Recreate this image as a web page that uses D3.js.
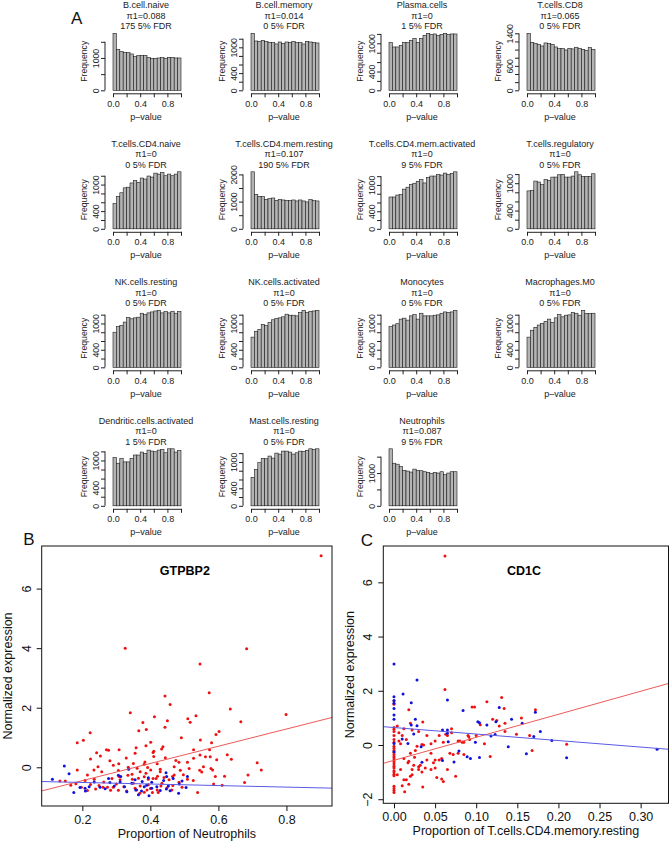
<!DOCTYPE html>
<html>
<head>
<meta charset="utf-8">
<script src="https://cdn.jsdelivr.net/npm/d3@7"></script>
<style>
  body { margin: 0; background: #fff; }
  svg { display: block; font-family: "Liberation Sans", Arial, Helvetica, sans-serif; }
</style>
</head>
<body>
<svg id="fig" width="669" height="847"></svg>
<script>
// ---- panel A: p-value histograms ----
var histNames = ["B.cell.naive", "B.cell.memory", "Plasma.cells", "T.cells.CD8",
  "T.cells.CD4.naive", "T.cells.CD4.mem.resting", "T.cells.CD4.mem.activated", "T.cells.regulatory",
  "NK.cells.resting", "NK.cells.activated", "Monocytes", "Macrophages.M0",
  "Dendritic.cells.activated", "Mast.cells.resting", "Neutrophils"];
var histPi = ["0.088", "0.014", "0", "0.065", "0", "0.107", "0", "0", "0", "0", "0", "0", "0", "0", "0.087"];
var histFdr = [175, 0, 1, 0, 0, 190, 9, 0, 0, 0, 0, 0, 1, 0, 9];

// 20 bins of width 0.05 per panel
var histCounts = [
  [1763,1268,1196,1165,1165,1124,1041,1072,1072,1082,1010,990,990,1000,1010,990,1020,1010,1000,1000],
  [1326,1147,1132,1163,1140,1116,1108,1078,1124,1093,1124,1108,1132,1108,1108,1078,1140,1124,1116,1101],
  [1014,922,922,957,1021,1014,1064,1106,1021,1106,1170,1213,1184,1199,1163,1191,1213,1184,1199,1199],
  [1400,1179,1155,1130,1089,1163,1147,1130,1065,1024,1024,991,1032,1016,1057,1032,1007,975,1048,1007],
  [570,733,815,926,941,1037,1089,1052,1148,1126,1193,1170,1259,1237,1274,1200,1237,1200,1237,1289],
  [2096,1265,1193,1181,1084,1108,1133,1048,1084,1060,1048,1036,1060,1024,1060,1024,988,1072,1036,1024],
  [725,725,770,785,904,949,1009,1039,1084,1121,1046,1173,1203,1203,1241,1226,1270,1241,1263,1300],
  [831,845,1047,1026,968,1077,1062,1134,1134,1185,1192,1134,1134,1156,1250,1185,1149,1149,1149,1207],
  [800,927,957,1031,1136,1106,1128,1143,1233,1203,1241,1263,1285,1300,1241,1270,1241,1278,1233,1270],
  [688,822,860,979,949,1024,1084,1113,1128,1151,1211,1188,1188,1173,1248,1300,1248,1278,1285,1300],
  [927,964,994,1099,1121,1076,1173,1203,1099,1233,1173,1173,1173,1188,1196,1233,1263,1248,1263,1300],
  [688,845,912,964,1001,1046,1099,1024,1128,1203,1151,1188,1196,1248,1233,1188,1300,1226,1226,1233],
  [1062,939,1048,968,968,1048,1120,1120,1185,1156,1228,1207,1192,1228,1243,1170,1257,1257,1185,1221],
  [650,824,983,1081,1073,1134,1088,1202,1179,1247,1247,1225,1179,1209,1247,1240,1262,1300,1285,1300],
  [1740,1300,1270,1200,1080,1060,1030,1120,1080,1070,1040,1020,980,1020,1000,1040,950,1000,1040,1040]
];
var histTickStep = [500, 200, 200, 200, 200, 500, 200, 200, 200, 200, 200, 200, 200, 200, 500];
var histTickLabels = [
  [0, 1000], [0, 400, 1000], [0, 400, 1000], [0, 600, 1400],
  [0, 400, 1000], [0, 1000, 2000], [0, 400, 1000], [0, 400, 1000],
  [0, 400, 1000], [0, 400, 1000], [0, 400, 1000], [0, 400, 1000],
  [0, 400, 1000], [0, 400, 1000], [0, 1000]
];
var pTicks = [0, 0.2, 0.4, 0.6, 0.8, 1];
var pTickLabels = [0, 0.4, 0.8];

// ---- panel B: GTPBP2 vs neutrophils ----
var gtpRed = [
  [0.902,7.10],[0.326,4.00],[0.546,3.47],[0.683,3.98],
  [0.443,2.39],[0.573,2.50],[0.458,2.11],[0.635,1.96],[0.799,1.77],[0.341,1.83],[0.412,1.70],
  [0.534,1.73],[0.510,1.63],[0.517,1.51],[0.450,1.56],[0.666,1.53],[0.378,1.50],[0.443,1.34],
  [0.388,1.27],[0.366,1.23],[0.602,1.20],[0.593,1.10],[0.223,1.16],[0.203,0.91],[0.185,0.82],
  [0.401,0.84],[0.491,0.99],[0.547,0.92],[0.580,0.82],[0.387,0.72],[0.358,0.66],[0.437,0.69],
  [0.433,0.61],[0.410,0.54],[0.408,0.50],[0.271,0.59],[0.277,0.57],[0.308,0.59],[0.527,0.59],
  [0.574,0.59],[0.626,0.42],[0.546,0.41],[0.253,0.38],[0.329,0.31],[0.355,0.47],[0.224,0.28],
  [0.444,0.32],[0.475,0.23],[0.484,0.17],[0.576,0.35],[0.638,0.27],[0.562,0.35],[0.281,0.22],
  [0.384,0.18],[0.350,0.13],[0.382,0.10],[0.420,0.12],[0.291,0.07],[0.307,0.12],[0.246,0.02],
  [0.234,-0.09],[0.185,-0.09],[0.714,0.15],[0.726,-0.09],[0.687,-0.26],[0.677,-0.51],
  [0.392,-0.01],[0.335,0.00],[0.361,-0.03],[0.401,-0.09],[0.429,-0.07],[0.488,-0.10],
  [0.514,-0.04],[0.545,-0.10],[0.551,-0.16],[0.578,-0.04],[0.583,-0.09],[0.497,-0.25],
  [0.465,-0.31],[0.440,-0.34],[0.421,-0.30],[0.408,-0.38],[0.394,-0.40],[0.382,-0.32],
  [0.365,-0.37],[0.347,-0.40],[0.334,-0.27],[0.308,-0.31],[0.287,-0.38],[0.263,-0.49],
  [0.235,-0.40],[0.208,-0.44],[0.181,-0.55],[0.150,-0.46],[0.166,-0.60],[0.224,-0.58],
  [0.249,-0.61],[0.274,-0.67],[0.283,-0.77],[0.306,-0.77],[0.330,-0.80],[0.360,-0.76],
  [0.382,-0.84],[0.406,-0.85],[0.420,-0.76],[0.449,-0.69],[0.466,-0.61],[0.484,-0.50],
  [0.509,-0.40],[0.526,-0.44],[0.539,-0.85],[0.586,-0.56],[0.611,-0.60],[0.591,-0.31],
  [0.618,-0.30],[0.387,-0.20],[0.370,-0.15],[0.429,-0.15],[0.417,-0.38],[0.434,-0.54],
  [0.394,-0.59],[0.370,-0.63],[0.350,-0.54],[0.322,-0.65],[0.300,-0.56],[0.261,-0.67],
  [0.239,-0.73],[0.215,-0.78],[0.197,-0.67],[0.134,-0.46],[0.257,-0.15],[0.215,-0.26],
  [0.306,-0.11],[0.470,0.02],[0.509,0.17],[0.527,0.30],[0.410,0.36],[0.242,0.49],
  [0.470,-0.26],[0.455,-0.42],[0.400,-0.71],[0.423,-0.85],[0.390,-0.76],[0.369,-0.87],
  [0.355,-0.70],[0.463,-0.76],[0.493,-0.67],[0.431,-0.63],[0.346,-0.23],[0.311,-0.42],
  [0.291,-0.67],[0.556,0.02],[0.595,0.25]
];
var gtpBlue = [
  [0.112,-0.40],[0.147,0.04],[0.161,-0.22],[0.175,-0.85],[0.193,-0.68],[0.209,-0.80],
  [0.277,-0.38],[0.281,-0.51],[0.294,-0.63],[0.306,-0.27],[0.313,-0.31],[0.336,-0.07],
  [0.311,-0.49],[0.324,-0.65],[0.331,-0.82],[0.345,-0.54],[0.357,-0.76],[0.365,-0.92],
  [0.376,-0.48],[0.389,-0.60],[0.396,-0.96],[0.404,-0.50],[0.404,-0.70],[0.394,-0.35],
  [0.446,-0.18],[0.448,-0.31],[0.439,-0.44],[0.453,-0.63],[0.458,-0.79],[0.467,-0.38],
  [0.485,-0.56],[0.483,-0.87],[0.493,-0.46],[0.505,-0.68],[0.509,-0.31],[0.252,-0.67],
  [0.235,-0.49],[0.220,-0.65],[0.208,-0.70],[0.267,-0.72],[0.419,-0.65],[0.429,-0.78],
  [0.374,-0.80],[0.355,-0.42],[0.382,-0.65],[0.447,-0.73]
];
var gtpFit = [[-1.027, 2.89], [-0.458, -0.26]]; // intercept, slope: red, blue
var gtpXTicks = [0.2, 0.4, 0.6, 0.8];
var gtpYTicks = [0, 2, 4, 6];

// ---- panel C: CD1C vs T.cells.CD4.memory.resting ----
var cdRed = [
  [0.062,6.97],[0.062,2.05],
  [0,-1.75],[0,-1.68],[0,-1.6],[0,-1.52],[0,-1.13],[0,-1.08],[0,-1.0],[0,-0.95],[0,-0.85],
  [0,-0.78],[0,-0.7],[0,-0.62],[0,-0.55],[0,-0.48],[0,-0.42],[0,-0.35],[0,-0.28],[0,-0.2],
  [0,-0.12],[0,-0.05],[0,0.1],[0,0.2],[0,0.35],[0,0.5],[0,0.58],[0,0.65],[0,1.5],[0,1.62],
  [0.004,-1.1],[0.006,0.15],[0.008,-0.9],[0.010,-1.5],[0.012,-1.28],[0.013,-1.72],[0.015,-1.28],
  [0.017,-0.65],[0.018,-1.45],[0.020,-1.15],[0.022,-1.1],[0.024,-0.75],[0.025,-0.45],[0.026,-0.2],
  [0.028,-0.05],[0.030,-0.9],[0.032,-0.75],[0.034,-1.0],[0.035,-1.55],[0.036,0.0],[0.038,-0.85],
  [0.040,-0.55],[0.045,-0.3],[0.048,-0.65],[0.050,-0.85],[0.052,-1.2],[0.055,-0.55],[0.058,-1.25],
  [0.060,-1.35],[0.063,0.4],[0.065,-0.9],[0.068,-0.3],[0.070,0.6],[0.072,-0.35],[0.075,-1.15],
  [0.078,0.15],[0.080,0.15],[0.083,0.1],[0.085,-0.35],[0.090,0.35],[0.092,0.2],[0.095,1.4],
  [0.098,1.4],[0.100,0.35],[0.105,0.75],[0.110,0.05],[0.113,1.6],[0.117,-0.42],[0.120,0.95],
  [0.125,0.9],[0.128,0.7],[0.131,1.75],[0.134,1.35],[0.135,0.8],[0.135,0.5],[0.149,0.4],
  [0.155,1.0],[0.165,0.35],[0.168,-0.2],[0.172,1.3],[0.210,0.03],[0.010,0.35],[0.012,0.6],
  [0.015,0.2],[0.020,0.8],[0.022,0.55],[0.035,0.85],[0.034,0.02],[0.045,0.05],[0.055,0.35],
  [0.060,0.1],[0.065,0.35],[0.050,0.15],[0.040,0.35],[0.020,-0.3],[0.018,-0.6],[0.030,0.5],
  [0.012,-0.5],[0.008,0.05],[0.004,0.7],[0.006,0.45],[0.078,-0.3],[0.058,-0.5],[0.070,0.45],
  [0.085,0.1],[0.091,0.3],[0.050,-0.55],[0.045,-0.9],[0.030,-0.8],[0.022,-0.9],[0.018,1.3]
];
var cdBlue = [
  [0,2.99],[0.028,2.40],[0,1.78],[0,1.64],[0,1.54],[0,1.35],[0,1.11],[0,0.95],[0,0.06],[0,-0.25],
  [0.011,1.88],[0.021,1.56],[0.026,0.95],[0.028,0.71],[0.021,0.74],[0.010,0.22],[0.017,0.06],
  [0.024,0.41],[0.034,-0.64],[0.033,-0.06],[0.059,0.55],[0.065,0.55],[0.065,0.43],[0.065,1.66],
  [0.059,-0.57],[0.066,0.12],[0.073,-0.63],[0.079,-0.22],[0.084,1.27],[0.089,-0.43],[0.093,-0.50],
  [0.099,0.10],[0.102,0.86],[0.104,0.82],[0.104,-0.46],[0.113,0.74],[0.118,0.33],[0.123,0.39],
  [0.124,0.86],[0.128,1.38],[0.139,-0.06],[0.143,0.95],[0.156,0.80],[0.161,-0.32],[0.170,0.31],
  [0.172,1.21],[0.178,0.50],[0.192,0.17],[0.210,-0.47],[0.320,-0.16]
];
var cdFit = [[-0.565, 8.49], [0.644, -2.40]];
var cdXTicks = [0, 0.05, 0.10, 0.15, 0.20, 0.25, 0.30];
var cdYTicks = [-2, 0, 2, 4, 6];

var svg = d3.select("#fig");
svg.append("rect").attr("width", 669).attr("height", 847).attr("fill", "#fff");

// linker kolommen en basislijnen van de histogrammen
var histLeft = [113, 251, 389, 527];
var histBase = [90.3, 228.8, 367.3, 505.8];

function drawHist(i) {
  var col = i % 4, row = Math.floor(i / 4);
  var x0 = histLeft[col], y0 = histBase[row];
  var counts = histCounts[i];
  var maxC = d3.max(counts);
  var x = d3.scaleLinear().domain([0, 1]).range([x0, x0 + 68]);
  var y = d3.scaleLinear().domain([0, maxC]).range([y0, y0 - 57]);
  var g = svg.append("g").attr("fill", "#222");

  g.append("g").selectAll("rect")
    .data(counts)
    .enter().append("rect")
      .attr("x", function(d, j) { return x(j * 0.05); })
      .attr("width", x(0.05) - x(0))
      .attr("y", function(d) { return y(d); })
      .attr("height", function(d) { return y(0) - y(d); })
      .attr("fill", "#b4b4b4")
      .attr("stroke", "#1a1a1a")
      .attr("stroke-width", 0.6);

  // titel: naam, pi1 en aantal bij 5% FDR
  var cx = x0 + 33;
  [histNames[i], "\u03c01=" + histPi[i], histFdr[i] + " 5% FDR"].forEach(function(t, k) {
    g.append("text")
      .attr("x", cx).attr("y", y0 - 82 + k * 10.5)
      .attr("text-anchor", "middle")
      .attr("font-size", 9)
      .text(t);
  });

  // x-as
  var xa = g.append("g")
      .attr("transform", "translate(0," + (y0 + 3) + ")")
      .call(d3.axisBottom(x).tickValues(pTicks).tickSize(4).tickSizeOuter(0).tickPadding(3)
        .tickFormat(function(d) { return pTickLabels.indexOf(d) >= 0 ? d3.format(".1f")(d) : ""; }));
  xa.selectAll("text").attr("font-size", 9).attr("fill", "#222");
  xa.selectAll("line, path").attr("stroke", "#222");
  xa.attr("font-family", null);

  g.append("text")
    .attr("x", cx).attr("y", y0 + 29.5)
    .attr("text-anchor", "middle")
    .attr("font-size", 9)
    .text("p\u2013value");

  // y-as
  var step = histTickStep[i];
  var ticks = d3.range(0, Math.floor(maxC / step) * step + 1, step);
  var ya = g.append("g")
      .attr("transform", "translate(" + (x0 - 8) + ",0)")
      .call(d3.axisLeft(y).tickValues(ticks).tickSize(4).tickSizeOuter(0)
        .tickFormat(function(d) { return histTickLabels[i].indexOf(d) >= 0 ? d : ""; }));
  ya.attr("font-family", null);
  ya.select(".domain").remove();
  ya.append("line")
    .attr("y1", y(0)).attr("y2", y(ticks[ticks.length - 1]))
    .attr("stroke", "#222");
  ya.selectAll("line").attr("stroke", "#222");
  ya.selectAll("text")
    .attr("x", null).attr("dy", null)
    .attr("transform", "translate(-6,0) rotate(-90)")
    .attr("text-anchor", "middle")
    .attr("font-size", 8.7)
    .attr("fill", "#222");

  g.append("text")
    .attr("transform", "translate(" + (x0 - 26) + "," + (y0 - 29) + ") rotate(-90)")
    .attr("text-anchor", "middle")
    .attr("font-size", 8.7)
    .text("Frequency");
}

histNames.forEach(function(d, i) { drawHist(i); });

function drawScatter(o) {
  var x = d3.scaleLinear().domain(o.xDomain).range([o.left, o.right]);
  var y = d3.scaleLinear().domain(o.yDomain).range([o.bottom, o.top]);
  var g = svg.append("g");

  var clipId = "clip-" + o.title;
  svg.append("clipPath").attr("id", clipId)
    .append("rect")
      .attr("x", o.left).attr("y", o.top)
      .attr("width", o.right - o.left).attr("height", o.bottom - o.top);

  g.append("g").selectAll("circle")
    .data(o.red)
    .enter().append("circle")
      .attr("cx", function(d) { return x(d[0]); })
      .attr("cy", function(d) { return y(d[1]); })
      .attr("r", 1.5)
      .attr("fill", "#ee1111");

  g.append("g").selectAll("circle")
    .data(o.blue)
    .enter().append("circle")
      .attr("cx", function(d) { return x(d[0]); })
      .attr("cy", function(d) { return y(d[1]); })
      .attr("r", 1.5)
      .attr("fill", "#1111dd");

  // regressielijnen rood en blauw
  var lineColors = ["#ec5a5a", "#5a5ae6"];
  g.append("g").attr("clip-path", "url(#" + clipId + ")")
    .selectAll("line")
    .data(o.fit)
    .enter().append("line")
      .attr("x1", x(o.xDomain[0]))
      .attr("x2", x(o.xDomain[1]))
      .attr("y1", function(d) { return y(d[0] + d[1] * o.xDomain[0]); })
      .attr("y2", function(d) { return y(d[0] + d[1] * o.xDomain[1]); })
      .attr("stroke", function(d, i) { return lineColors[i]; })
      .attr("stroke-width", 1);

  g.append("rect")
    .attr("x", o.left).attr("y", o.top)
    .attr("width", o.right - o.left).attr("height", o.bottom - o.top)
    .attr("fill", "none").attr("stroke", "#111").attr("stroke-width", 1);

  var xa = g.append("g")
      .attr("transform", "translate(0," + o.bottom + ")")
      .call(d3.axisBottom(x).tickValues(o.xTicks).tickSize(5).tickSizeOuter(0).tickPadding(4)
        .tickFormat(d3.format(o.xFormat)));
  xa.attr("font-family", null);
  xa.select(".domain").remove();
  xa.selectAll("line").attr("stroke", "#111");
  xa.selectAll("text").attr("font-size", 12.5).attr("fill", "#111");

  var ya = g.append("g")
      .attr("transform", "translate(" + o.left + ",0)")
      .call(d3.axisLeft(y).tickValues(o.yTicks).tickSize(5).tickSizeOuter(0)
        .tickFormat(function(d) { return d < 0 ? "\u2212" + Math.abs(d) : d; }));
  ya.attr("font-family", null);
  ya.select(".domain").remove();
  ya.selectAll("line").attr("stroke", "#111");
  ya.selectAll("text")
    .attr("x", null).attr("dy", null)
    .attr("transform", "translate(-11,0) rotate(-90)")
    .attr("text-anchor", "middle")
    .attr("font-size", 12.5)
    .attr("fill", "#111");

  g.append("text")
    .attr("x", (o.left + o.right) / 2 - 2).attr("y", o.top + 28.5)
    .attr("text-anchor", "middle")
    .attr("font-size", 12.5)
    .attr("font-weight", "bold")
    .text(o.title);

  g.append("text")
    .attr("x", (o.left + o.right) / 2).attr("y", o.bottom + 31.5)
    .attr("text-anchor", "middle")
    .attr("font-size", 12.5)
    .attr("fill", "#111")
    .text(o.xLabel);

  g.append("text")
    .attr("transform", "translate(" + (o.left - 29.5) + "," + ((o.top + o.bottom) / 2) + ") rotate(-90)")
    .attr("text-anchor", "middle")
    .attr("font-size", 12.5)
    .attr("fill", "#111")
    .text("Normalized expression");
}

drawScatter({
  title: "GTPBP2", left: 41.7, right: 332, top: 546, bottom: 806,
  xDomain: [0.0805, 0.934], yDomain: [-1.30, 7.43],
  xTicks: gtpXTicks, yTicks: gtpYTicks, xFormat: ".1f",
  red: gtpRed, blue: gtpBlue, fit: gtpFit,
  xLabel: "Proportion of Neutrophils"
});

drawScatter({
  title: "CD1C", left: 383.3, right: 668.5, top: 546, bottom: 803.3,
  xDomain: [-0.013, 0.3339], yDomain: [-2.15, 7.34],
  xTicks: cdXTicks, yTicks: cdYTicks, xFormat: ".2f",
  red: cdRed, blue: cdBlue, fit: cdFit,
  xLabel: "Proportion of T.cells.CD4.memory.resting"
});

// paneelletters
[["A", 76.7, 23.5], ["B", 29, 545], ["C", 367, 546]].forEach(function(p) {
  svg.append("text")
    .attr("x", p[1]).attr("y", p[2])
    .attr("text-anchor", "middle")
    .attr("font-size", 17)
    .attr("fill", "#111")
    .text(p[0]);
});
</script>
</body>
</html>
